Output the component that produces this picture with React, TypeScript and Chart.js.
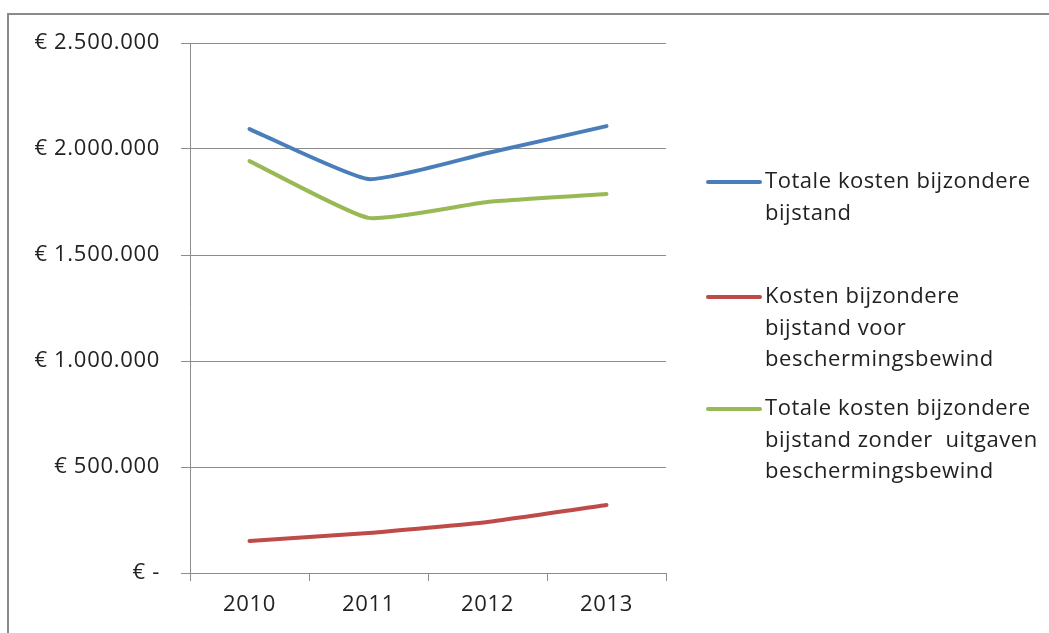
import React, { useEffect, useRef } from "react";
import { Chart, registerables } from "chart.js";

Chart.register(...registerables);

const years = ["2010", "2011", "2012", "2013"];
const totalCosts = [2094000, 1858000, 1981000, 2108000];
const guardianshipCosts = [151000, 189000, 241000, 321000];
const totalWithoutGuardianship = [1943000, 1675000, 1750000, 1788000];
const yTicks = [0, 500000, 1000000, 1500000, 2000000, 2500000];

const seriesNames = [
  ["Totale kosten bijzondere", "bijstand"],
  ["Kosten bijzondere", "bijstand voor", "beschermingsbewind"],
  ["Totale kosten bijzondere", "bijstand zonder  uitgaven", "beschermingsbewind"],
];
const seriesColors = ["#4A7EBB", "#BE4B48", "#98B954"];

const FONT = "'Open Sans', Lato, sans-serif";
const TEXT = "#222222";
const GRID = "#8c8c8c";

function formatEuro(v: number): string {
  if (v === 0) return "€ -";
  const s = Math.round(v).toString().replace(/\B(?=(\d{3})+(?!\d))/g, ".");
  return "€ " + s;
}

const framePlugin = {
  id: "frame",
  beforeDraw(chart: any) {
    const ctx = chart.ctx;
    ctx.save();
    ctx.fillStyle = "#ffffff";
    ctx.fillRect(0, 0, chart.width, chart.height);
    ctx.strokeStyle = "#8a8a8a";
    ctx.lineWidth = 2;
    ctx.beginPath();
    ctx.moveTo(8, chart.height);
    ctx.lineTo(8, 14);
    ctx.lineTo(chart.width, 14);
    ctx.stroke();
    ctx.restore();
    ctx.letterSpacing = "0.7px";
  },
};

const legendPlugin = {
  id: "customLegend",
  afterDraw(chart: any) {
    const ctx = chart.ctx;
    const entries = [{ y: 182 }, { y: 297 }, { y: 409 }];
    ctx.save();
    ctx.font = `22px ${FONT}`;
    ctx.letterSpacing = "0.55px";
    ctx.textBaseline = "middle";
    ctx.textAlign = "left";
    entries.forEach((e, i) => {
      const ds = chart.data.datasets[i];
      ctx.strokeStyle = ds.borderColor;
      ctx.lineWidth = 4;
      ctx.lineCap = "round";
      ctx.beginPath();
      ctx.moveTo(708, e.y);
      ctx.lineTo(760, e.y);
      ctx.stroke();
      ctx.fillStyle = TEXT;
      seriesNames[i].forEach((line, j) => {
        ctx.fillText(line, 765, e.y + j * 31.5);
      });
    });
    ctx.restore();
  },
};

export default function App() {
  const ref = useRef<HTMLCanvasElement | null>(null);

  useEffect(() => {
    if (!ref.current) return;
    const chart = new Chart(ref.current, {
      type: "line",
      data: {
        labels: years,
        datasets: [
          { label: seriesNames[0].join(" "), data: totalCosts, borderColor: seriesColors[0] },
          { label: seriesNames[1].join(" "), data: guardianshipCosts, borderColor: seriesColors[1] },
          { label: seriesNames[2].join(" "), data: totalWithoutGuardianship, borderColor: seriesColors[2] },
        ].map((d) => ({
          ...d,
          borderWidth: 4,
          pointRadius: 0,
          tension: 0.15,
          fill: false,
          borderCapStyle: "round" as const,
        })),
      },
      options: {
        animation: false,
        responsive: false,
        maintainAspectRatio: false,
        layout: { padding: { left: 0, top: 43, right: 383, bottom: 0 } },
        plugins: { legend: { display: false }, tooltip: { enabled: false } },
        scales: {
          x: {
            offset: true,
            grid: {
              offset: true,
              drawOnChartArea: false,
              drawTicks: true,
              tickLength: 8,
              color: GRID,
              lineWidth: 1,
            },
            border: { color: GRID, width: 1 },
            ticks: { color: TEXT, font: { family: FONT, size: 22 }, padding: 11 },
            afterFit(scale: any) {
              scale.height = 60;
            },
          },
          y: {
            min: 0,
            max: 2500000,
            afterBuildTicks(scale: any) {
              scale.ticks = yTicks.map((v) => ({ value: v }));
            },
            grid: { color: GRID, lineWidth: 1, tickLength: 9 },
            border: { color: GRID, width: 1 },
            ticks: {
              color: TEXT,
              font: { family: FONT, size: 22 },
              padding: 21,
              callback: (v: any) => formatEuro(Number(v)),
            },
            afterFit(scale: any) {
              scale.width = 190;
            },
          },
        },
      },
      plugins: [framePlugin, legendPlugin],
    });
    return () => chart.destroy();
  }, []);

  return (
    <div style={{ position: "fixed", left: 0, top: 0, width: 1049, height: 633, background: "#fff" }}>
      <canvas ref={ref} width={1049} height={633} style={{ width: 1049, height: 633, display: "block" }} />
    </div>
  );
}
